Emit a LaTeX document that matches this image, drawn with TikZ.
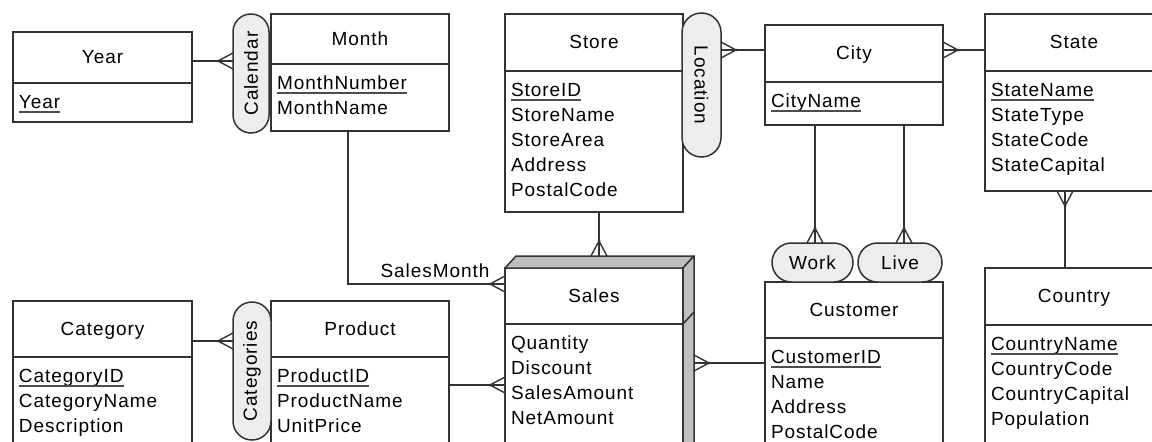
\documentclass[tikz,border=0pt]{standalone}
\usepackage{fontspec}
\setmainfont{Liberation Sans}[LetterSpace=5]
\usetikzlibrary{calc}

\tikzset{
  ln/.style={draw=black!80, line width=1.5pt},
  conn/.style={draw=black!80, line width=1.4pt},
  uline/.style={draw=black!70, line width=1.3pt},
  box/.style={ln, fill=white, rectangle, inner sep=0pt, outer sep=0pt, anchor=north west},
  pill/.style={ln, fill=black!7, rectangle, rounded corners=#1, inner sep=0pt, outer sep=0pt, anchor=north west},
  lbl/.style={inner sep=0pt, outer sep=0pt, font=\fontsize{19}{25}\selectfont, text=black},
  ttl/.style={lbl, anchor=base},
  att/.style={lbl, anchor=base west},
  side/.style={ln, fill=black!25, line join=round},
}

% entity box: name, x, y, width, height, header height, title, attribute list
\newcommand\entity[8]{%
  \node[box, minimum width=#4pt, minimum height=#5pt] (#1) at (#2,#3) {};
  \draw[ln] ($(#1.north west)+(0,#6)$) -- ($(#1.north east)+(0,#6)$);
  \node[ttl] (#1-title) at ($(#1.north)+(0,{#6/2+6})$) {#7};
  \foreach \t [count=\i] in {#8}
    \node[att] (#1-a\i) at ($(#1.north west)+(6,{#6+25*\i})$) {\t};
}
% underline the key attribute of an entity
\newcommand\underkey[1]{%
  \draw[uline] ($(#1-a1.base west)+(0,4)$) -- ($(#1-a1.base east)+(0,4)$);
}
% crow's foot at a point; (#2,#3) points away from the entity
\newcommand\crow[3]{%
  \draw[conn] ($(#1)+({15*(#2)},{15*(#3)})$) -- ($(#1)+({8*(#3)},{8*(#2)})$)
              ($(#1)+({15*(#2)},{15*(#3)})$) -- ($(#1)+({-8*(#3)},{-8*(#2)})$);
  \fill[black!80] ($(#1)+({15*(#2)},{15*(#3)})$) circle (1.5pt);
}

\begin{document}
\begin{tikzpicture}[x=1pt, y=-1pt]
\useasboundingbox (0,0) rectangle (1152,442);
\clip (0,0) rectangle (1152,442);

% entities
\entity{year}{13}{32}{179}{90}{51}{Year}{Year}
\underkey{year}
\entity{month}{271}{14}{178}{117}{50}{Month}{MonthNumber,MonthName}
\underkey{month}
\entity{store}{505}{14}{178}{198}{57}{Store}{StoreID,StoreName,StoreArea,Address,PostalCode}
\underkey{store}
\entity{city}{765}{25}{178}{100}{57}{City}{CityName}
\underkey{city}
\entity{state}{985}{14}{178}{177}{57}{State}{StateName,StateType,StateCode,StateCapital}
\underkey{state}
\entity{category}{13}{301}{179}{200}{56}{Category}{CategoryID,CategoryName,Description}
\underkey{category}
\entity{product}{271}{301}{178}{200}{56}{Product}{ProductID,ProductName,UnitPrice}
\underkey{product}
\entity{customer}{765}{282}{178}{200}{56}{Customer}{CustomerID,Name,Address,PostalCode}
\underkey{customer}
\entity{country}{985}{268}{178}{220}{57}{Country}{CountryName,CountryCode,CountryCapital,Population}
\underkey{country}

% fact box with bevelled top and side
\entity{sales}{505}{268}{178}{220}{56}{Sales}{Quantity,Discount,SalesAmount,NetAmount}
\draw[side] (sales.north west) -- ++(11,-12) -- ++(178,0) -- (sales.north east) -- cycle;
\draw[side] (sales.north east) -- ++(11,-12) -- ++(0,232) -- (sales.south east) -- cycle;
\draw[ln] ($(sales.north east)+(0,56)$) -- ++(11,-12);

% relationship pills
\node[pill=17.9pt, minimum width=36pt, minimum height=119pt] (calendar) at (233,14) {};
\node[lbl, rotate=90] (calendar-t) at (calendar.center) {Calendar};
\node[pill=19.4pt, minimum width=39pt, minimum height=144pt] (location) at (682,13) {};
\node[lbl, rotate=-90] (location-t) at (location.center) {Location};
\node[pill=18.9pt, minimum width=38pt, minimum height=138pt] (categories) at (233,302) {};
\node[lbl, rotate=90] (categories-t) at (categories.center) {Categories};
\node[pill=19.4pt, minimum width=81pt, minimum height=39pt] (work) at (772,243) {};
\node[lbl] (work-t) at (work.center) {Work};
\node[pill=19.4pt, minimum width=84pt, minimum height=39pt] (live) at (858,243) {};
\node[lbl] (live-t) at (live.center) {Live};

% connectors
\coordinate (yc) at (calendar.west |- 0,61);
\draw[conn] (year.east |- yc) -- (yc);
\crow{yc}{-1}{0}

\coordinate (lc) at (location.east |- 0,50);
\draw[conn] (lc) -- (city.west |- lc);
\crow{lc}{1}{0}

\coordinate (cs) at (city.east |- 0,50);
\draw[conn] (cs) -- (state.west |- cs);
\crow{cs}{1}{0}

\coordinate (sc) at (state.south -| 1065,0);
\draw[conn] (sc) -- (country.north -| sc);
\crow{sc}{0}{1}

\coordinate (ss) at ([xshift=5pt, yshift=12pt]sales.north);
\draw[conn] (store.south -| ss) -- (ss);
\crow{ss}{0}{-1}

\coordinate (ms) at ([yshift=-16pt]sales.north west);
\draw[conn] ([xshift=-12pt]month.south) |- (ms);
\crow{ms}{-1}{0}
\node[lbl, anchor=base] (salesmonth) at (435,277) {SalesMonth};

\coordinate (ps) at (sales.west |- 0,385);
\draw[conn] (product.east |- ps) -- (ps);
\crow{ps}{-1}{0}

\coordinate (sx) at ($(sales.east |- 0,363)+(11,0)$);
\draw[conn] (sx) -- (customer.west |- sx);
\crow{sx}{1}{0}

\coordinate (cw) at (work.north -| 815,0);
\draw[conn] (city.south -| cw) -- (cw);
\crow{cw}{0}{-1}

\coordinate (cl) at (live.north -| 904,0);
\draw[conn] (city.south -| cl) -- (cl);
\crow{cl}{0}{-1}

\coordinate (cc) at (categories.west |- 0,341);
\draw[conn] (category.east |- cc) -- (cc);
\crow{cc}{-1}{0}
\end{tikzpicture}
\end{document}
